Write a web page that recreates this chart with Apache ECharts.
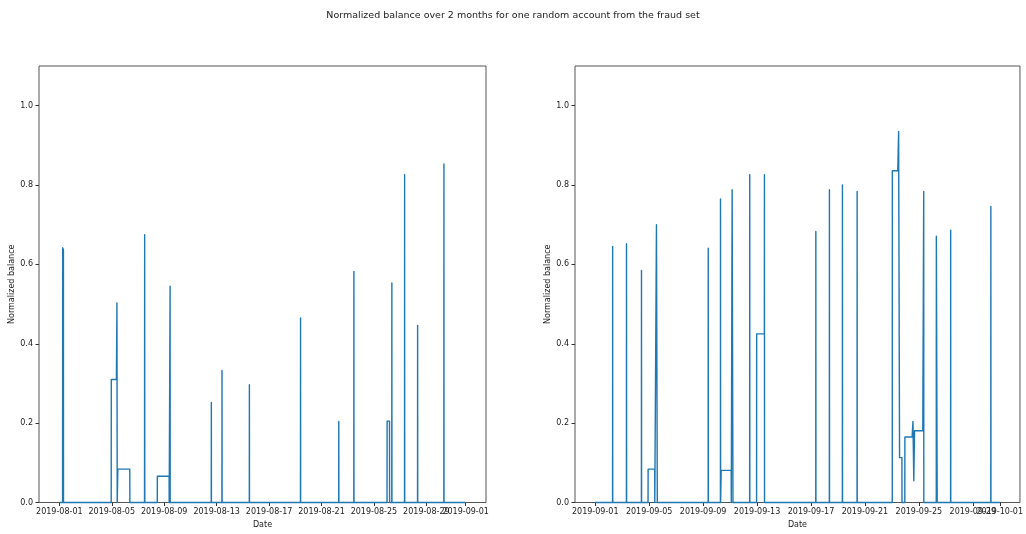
<!DOCTYPE html>
<html>
<head>
<meta charset="utf-8">
<script src="https://cdn.jsdelivr.net/npm/echarts@6/dist/echarts.min.js"></script>
<style>
  html, body { margin: 0; padding: 0; background: #fff; }
  #main { width: 1026px; height: 534px; }
</style>
</head>
<body>
<div id="main"></div>
<script>
// Normalized balance, August (time, value)
const augPoints = [
    ['2019-08-01 00:00', 0],
    ['2019-08-01 06:00', 0], ['2019-08-01 06:10', 0.642], ['2019-08-01 07:30', 0.636], ['2019-08-01 07:40', 0],
    ['2019-08-04 23:00', 0], ['2019-08-04 23:10', 0.31], ['2019-08-05 08:30', 0.31], ['2019-08-05 09:30', 0.503], ['2019-08-05 10:00', 0],
    ['2019-08-05 11:00', 0], ['2019-08-05 11:10', 0.084], ['2019-08-06 09:00', 0.084], ['2019-08-06 09:10', 0],
    ['2019-08-07 12:00', 0], ['2019-08-07 12:15', 0.675], ['2019-08-07 12:30', 0],
    ['2019-08-08 11:20', 0], ['2019-08-08 11:30', 0.066], ['2019-08-09 09:00', 0.066], ['2019-08-09 09:10', 0],
    ['2019-08-09 10:40', 0], ['2019-08-09 10:50', 0.545], ['2019-08-09 11:00', 0],
    ['2019-08-12 14:10', 0], ['2019-08-12 14:20', 0.252], ['2019-08-12 14:30', 0],
    ['2019-08-13 09:40', 0], ['2019-08-13 09:50', 0.333], ['2019-08-13 10:00', 0],
    ['2019-08-15 11:50', 0], ['2019-08-15 12:00', 0.297], ['2019-08-15 12:10', 0],
    ['2019-08-19 09:30', 0], ['2019-08-19 09:40', 0.465], ['2019-08-19 09:50', 0],
    ['2019-08-22 07:30', 0], ['2019-08-22 07:40', 0.204], ['2019-08-22 07:50', 0],
    ['2019-08-23 11:10', 0], ['2019-08-23 11:20', 0.582], ['2019-08-23 11:30', 0],
    ['2019-08-26 00:00', 0], ['2019-08-26 00:10', 0.205], ['2019-08-26 04:30', 0.205], ['2019-08-26 04:40', 0],
    ['2019-08-26 08:40', 0], ['2019-08-26 08:50', 0.553], ['2019-08-26 09:00', 0],
    ['2019-08-27 08:00', 0], ['2019-08-27 08:10', 0.826], ['2019-08-27 08:20', 0],
    ['2019-08-28 07:50', 0], ['2019-08-28 08:00', 0.446], ['2019-08-28 08:10', 0],
    ['2019-08-30 08:00', 0], ['2019-08-30 08:10', 0.853], ['2019-08-30 08:20', 0],
    ['2019-08-31 23:59', 0]
];

// Normalized balance, September (time, value)
const sepPoints = [
    ['2019-09-01 00:00', 0],
    ['2019-09-02 06:50', 0], ['2019-09-02 07:00', 0.645], ['2019-09-02 07:10', 0],
    ['2019-09-03 07:30', 0], ['2019-09-03 07:40', 0.652], ['2019-09-03 07:50', 0],
    ['2019-09-04 10:10', 0], ['2019-09-04 10:20', 0.585], ['2019-09-04 10:30', 0],
    ['2019-09-04 22:00', 0], ['2019-09-04 22:10', 0.084], ['2019-09-05 09:50', 0.084], ['2019-09-05 10:00', 0],
    ['2019-09-05 12:50', 0], ['2019-09-05 13:00', 0.70], ['2019-09-05 14:20', 0.695], ['2019-09-05 14:30', 0],
    ['2019-09-09 09:00', 0], ['2019-09-09 09:10', 0.641], ['2019-09-09 09:20', 0],
    ['2019-09-10 06:50', 0], ['2019-09-10 07:00', 0.765], ['2019-09-10 07:10', 0],
    ['2019-09-10 08:00', 0], ['2019-09-10 08:10', 0.081], ['2019-09-11 02:00', 0.081], ['2019-09-11 02:10', 0],
    ['2019-09-11 03:30', 0], ['2019-09-11 03:40', 0.788], ['2019-09-11 05:00', 0.785], ['2019-09-11 05:10', 0],
    ['2019-09-12 10:50', 0], ['2019-09-12 11:00', 0.826], ['2019-09-12 11:10', 0],
    ['2019-09-12 23:10', 0], ['2019-09-12 23:20', 0.425], ['2019-09-13 13:00', 0.425], ['2019-09-13 13:10', 0.826], ['2019-09-13 13:20', 0],
    ['2019-09-17 08:30', 0], ['2019-09-17 08:40', 0.683], ['2019-09-17 08:50', 0],
    ['2019-09-18 08:40', 0], ['2019-09-18 08:50', 0.788], ['2019-09-18 09:00', 0],
    ['2019-09-19 07:50', 0], ['2019-09-19 08:00', 0.80], ['2019-09-19 08:10', 0],
    ['2019-09-20 10:00', 0], ['2019-09-20 10:10', 0.784], ['2019-09-20 10:20', 0],
    ['2019-09-23 00:40', 0], ['2019-09-23 00:50', 0.836], ['2019-09-23 10:30', 0.836], ['2019-09-23 12:00', 0.935],
    ['2019-09-23 13:40', 0.113], ['2019-09-23 17:50', 0.113], ['2019-09-23 18:00', 0],
    ['2019-09-23 23:00', 0], ['2019-09-23 23:10', 0.165], ['2019-09-24 12:00', 0.165], ['2019-09-24 13:30', 0.204],
    ['2019-09-24 15:00', 0.055], ['2019-09-24 16:20', 0.181], ['2019-09-25 07:00', 0.181], ['2019-09-25 08:40', 0.784], ['2019-09-25 08:50', 0],
    ['2019-09-26 07:00', 0], ['2019-09-26 07:10', 0.671], ['2019-09-26 08:30', 0.668], ['2019-09-26 08:40', 0],
    ['2019-09-27 08:30', 0], ['2019-09-27 08:40', 0.686], ['2019-09-27 08:50', 0],
    ['2019-09-30 08:00', 0], ['2019-09-30 08:10', 0.746], ['2019-09-30 08:20', 0],
    ['2019-09-30 23:59', 0]
];

// tick labels
const augTicks = ['2019-08-01', '2019-08-05', '2019-08-09', '2019-08-13', '2019-08-17',
    '2019-08-21', '2019-08-25', '2019-08-29', '2019-09-01'];
const sepTicks = ['2019-09-01', '2019-09-05', '2019-09-09', '2019-09-13', '2019-09-17',
    '2019-09-21', '2019-09-25', '2019-09-29', '2019-10-01'];
const yTicks = [0, 0.2, 0.4, 0.6, 0.8, 1.0];

const FONT = 'DejaVu Sans';
const parseTime = s => Date.parse(s.replace(' ', 'T') + ':00Z');
const parseDay = s => Date.parse(s + 'T00:00:00Z');
const fmtDay = v => new Date(v).toISOString().slice(0, 10);

function toSeriesData(points) {
    return points.map(p => [parseTime(p[0]), p[1]]);
}

// matplotlib-like 5% margins on the x range
function xRange(data) {
    const first = data[0][0];
    const last = data[data.length - 1][0];
    const pad = (last - first) * 0.05;
    return [first - pad, last + pad];
}

// the last date label overlaps its neighbour (as in matplotlib), so it gets
// its own axis; otherwise echarts drops one of them
function makeX(idx, data, ticks, withName) {
    const r = xRange(data);
    const tickVals = ticks.map(parseDay);
    return {
        type: 'value',
        gridIndex: idx,
        position: 'bottom',
        min: r[0],
        max: r[1],
        name: withName ? 'Date' : '',
        nameLocation: 'middle',
        nameGap: 18,
        nameTextStyle: { fontFamily: FONT, fontSize: 8, color: '#222' },
        axisLine: { show: false },
        axisTick: { show: true, customValues: tickVals, length: 3.5, lineStyle: { color: '#333' } },
        axisLabel: {
            customValues: tickVals,
            formatter: fmtDay,
            hideOverlap: false,
            showMinLabel: true,
            showMaxLabel: true,
            fontFamily: FONT, fontSize: 8, color: '#222', margin: 5
        },
        splitLine: { show: false }
    };
}

function makeY(idx) {
    return {
        type: 'value',
        gridIndex: idx,
        min: 0,
        max: 1.1,
        name: 'Normalized balance',
        nameLocation: 'middle',
        nameRotate: 90,
        nameGap: 22,
        nameTextStyle: { fontFamily: FONT, fontSize: 8, color: '#222' },
        axisLine: { show: false },
        axisTick: { show: true, customValues: yTicks, length: 3.5, lineStyle: { color: '#333' } },
        axisLabel: {
            customValues: yTicks,
            formatter: v => Number(v).toFixed(1),
            fontFamily: FONT, fontSize: 8, color: '#222', margin: 6
        },
        splitLine: { show: false }
    };
}

const augData = toSeriesData(augPoints);
const sepData = toSeriesData(sepPoints);

const lineStyle = { color: '#1f77b4', width: 1.4, join: 'round' };

const chart = echarts.init(document.getElementById('main'), null, { renderer: 'canvas' });
chart.setOption({
    animation: false,
    backgroundColor: '#fff',
    title: {
        text: 'Normalized balance over 2 months for one random account from the fraud set',
        left: 'center',
        top: 6,
        textStyle: { fontFamily: FONT, fontSize: 9.5, fontWeight: 'normal', color: '#222' }
    },
    grid: [
        { left: 39, top: 66, width: 447, height: 436.5, show: true, borderColor: '#555', borderWidth: 1 },
        { left: 575, top: 66, width: 446, height: 436.5, show: true, borderColor: '#555', borderWidth: 1 }
    ],
    xAxis: [
        makeX(0, augData, augTicks.slice(0, -1), true),
        makeX(1, sepData, sepTicks.slice(0, -1), true),
        makeX(0, augData, augTicks.slice(-1), false),
        makeX(1, sepData, sepTicks.slice(-1), false)
    ],
    yAxis: [makeY(0), makeY(1)],
    series: [
        {
            name: 'August', type: 'line', xAxisIndex: 0, yAxisIndex: 0,
            data: augData, showSymbol: false, clip: false, lineStyle: lineStyle
        },
        {
            name: 'September', type: 'line', xAxisIndex: 1, yAxisIndex: 1,
            data: sepData, showSymbol: false, clip: false, lineStyle: lineStyle
        }
    ]
});
</script>
</body>
</html>
